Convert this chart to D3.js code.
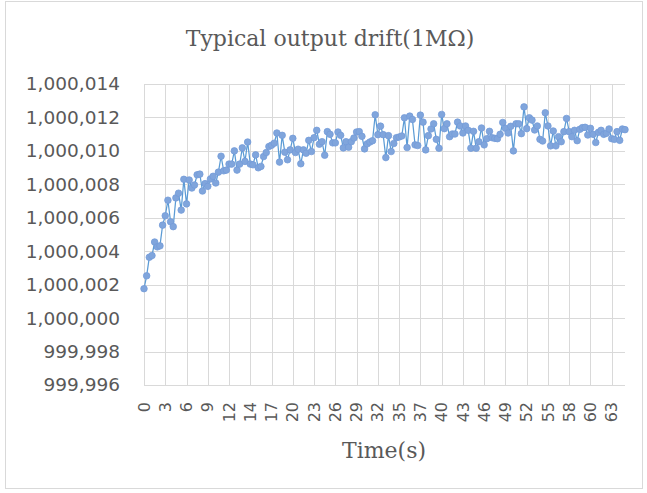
<!DOCTYPE html>
<html>
<head>
<meta charset="utf-8">
<script src="https://cdn.jsdelivr.net/npm/d3@7"></script>
<style>
  body { margin: 0; background: #fff; }
  .grid line { stroke: #d9d9d9; stroke-width: 1; }
  .y.axis text { font-family: "DejaVu Sans", sans-serif; font-size: 18.5px; fill: #595959; }
  .x.axis text { font-family: "DejaVu Sans", sans-serif; font-size: 16px; fill: #595959; }
  .title { font-family: "DejaVu Serif", serif; fill: #595959; }
</style>
</head>
<body>
<div id="chart"></div>
<script>
// time tick labels shown every 8 samples (0.36 s per sample)
var tickLabels = ["0","3","6","9","12","14","17","20","23","26","29","32","35","37","40","43","46","49","52","55","58","60","63"];

// offset from 1,000,000 ohm, in ohm
var drift = [
  1.76, 2.53, 3.64, 3.74, 4.55, 4.26, 4.32, 5.56, 6.12, 7.05,
  5.76, 5.47, 7.19, 7.47, 6.46, 8.30, 6.83, 8.26, 7.78, 7.96,
  8.57, 8.61, 7.60, 8.04, 7.88, 8.32, 8.48, 8.08, 8.73, 9.68,
  8.81, 8.85, 9.21, 9.21, 10.00, 8.85, 9.21, 10.18, 9.37, 10.53,
  9.21, 9.17, 9.76, 8.99, 9.07, 9.66, 9.90, 10.26, 10.34, 10.46,
  11.07, 9.33, 10.93, 9.92, 9.47, 10.06, 10.75, 9.90, 10.10, 9.23,
  10.06, 9.86, 10.63, 9.96, 10.79, 11.23, 10.40, 10.55, 9.74, 11.15,
  10.99, 10.48, 10.48, 11.13, 10.93, 10.18, 10.55, 10.22, 10.55, 10.77,
  11.13, 11.15, 10.87, 10.12, 10.42, 10.53, 10.61, 12.16, 10.97, 11.48,
  10.97, 9.60, 10.91, 9.96, 10.44, 10.79, 10.83, 10.89, 11.98, 10.20,
  12.08, 11.88, 10.36, 10.32, 12.14, 11.72, 10.06, 10.91, 11.31, 11.62,
  10.69, 10.16, 12.18, 11.33, 11.62, 10.85, 11.01, 11.01, 11.72, 11.49,
  11.07, 11.49, 11.23, 10.16, 11.17, 10.16, 10.55, 11.37, 10.36, 10.73,
  11.17, 10.79, 10.75, 10.73, 10.99, 11.70, 11.35, 11.07, 11.47, 10.00,
  11.62, 11.62, 11.03, 12.63, 11.33, 11.98, 11.84, 11.25, 11.49, 10.69,
  10.59, 12.28, 11.49, 10.30, 11.19, 10.30, 10.85, 10.55, 11.15, 11.94,
  11.15, 10.85, 11.23, 10.61, 11.29, 11.39, 11.41, 10.95, 11.35, 10.99,
  10.50, 11.11, 11.23, 10.99, 11.05, 11.31, 10.73, 10.69, 11.15, 10.63,
  11.31, 11.27
];

var yTicks = [999996, 999998, 1000000, 1000002, 1000004, 1000006, 1000008, 1000010, 1000012, 1000014];

var W = 647, H = 493;
var plot = {left: 144, right: 625, top: 84, bottom: 385};

var svg = d3.select("#chart").append("svg")
    .attr("width", W)
    .attr("height", H);

// chart area border
svg.append("rect")
    .attr("x", 5.5).attr("y", 1.5)
    .attr("width", 637).attr("height", 487)
    .attr("fill", "#fff")
    .attr("stroke", "#d9d9d9");

var x = d3.scaleLinear()
    .domain([0, drift.length - 1])
    .range([plot.left, plot.right]);

var y = d3.scaleLinear()
    .domain([999996, 1000014])
    .range([plot.bottom, plot.top]);

var fmt = d3.format(",d");

// horizontal gridlines
svg.append("g")
    .attr("class", "grid")
  .selectAll("line")
    .data(yTicks)
  .enter().append("line")
    .attr("x1", plot.left).attr("x2", plot.right)
    .attr("y1", function(d) { return Math.round(y(d)) + 0.5; })
    .attr("y2", function(d) { return Math.round(y(d)) + 0.5; });

// vertical gridlines, every 8 samples
var tickIdx = tickLabels.map(function(d, i) { return i * 8; });
svg.append("g")
    .attr("class", "grid")
  .selectAll("line")
    .data(tickIdx)
  .enter().append("line")
    .attr("x1", function(d) { return Math.round(x(d)) + 0.5; })
    .attr("x2", function(d) { return Math.round(x(d)) + 0.5; })
    .attr("y1", plot.top).attr("y2", plot.bottom);

// y axis labels
svg.append("g")
    .attr("class", "y axis")
  .selectAll("text")
    .data(yTicks)
  .enter().append("text")
    .attr("x", 120)
    .attr("y", function(d) { return y(d); })
    .attr("dy", "0.35em")
    .attr("text-anchor", "end")
    .text(function(d) { return fmt(d); });

// x axis labels, rotated
svg.append("g")
    .attr("class", "x axis")
  .selectAll("text")
    .data(tickLabels)
  .enter().append("text")
    .attr("transform", function(d, i) {
      return "translate(" + x(i * 8) + "," + (plot.bottom + 17) + ") rotate(-90)";
    })
    .attr("dy", "0.35em")
    .attr("text-anchor", "end")
    .text(function(d) { return d; });

// series
var line = d3.line()
    .x(function(d, i) { return x(i); })
    .y(function(d) { return y(1000000 + d); });

svg.append("path")
    .datum(drift)
    .attr("fill", "none")
    .attr("stroke", "#5b9bd5")
    .attr("stroke-width", 1.25)
    .attr("d", line);

svg.append("g")
  .selectAll("circle")
    .data(drift)
  .enter().append("circle")
    .attr("cx", function(d, i) { return x(i); })
    .attr("cy", function(d) { return y(1000000 + d); })
    .attr("r", 3.3)
    .attr("fill", "#80a5dc")
    .attr("stroke", "#739bd8")
    .attr("stroke-width", 0.75);

// titles
svg.append("text")
    .attr("class", "title")
    .attr("x", 330).attr("y", 46)
    .attr("text-anchor", "middle")
    .style("font-size", "22px")
    .text("Typical output drift(1MΩ)");

svg.append("text")
    .attr("class", "title")
    .attr("x", 384).attr("y", 458)
    .attr("text-anchor", "middle")
    .style("font-size", "22px")
    .text("Time(s)");
</script>
</body>
</html>
